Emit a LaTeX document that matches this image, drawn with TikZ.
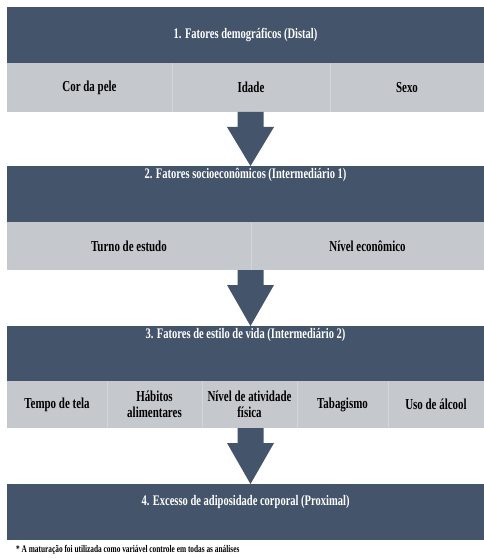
\documentclass[tikz,border=0pt]{standalone}
\usepackage{fontspec}
\setmainfont{Liberation Serif}[FakeStretch=0.72]
\usetikzlibrary{calc}
\definecolor{slate}{HTML}{44546A}
\definecolor{cellgray}{HTML}{C5C8CD}
\begin{document}
\begin{tikzpicture}[x=1pt,y=-1pt,
  darkbox/.style={fill=slate, draw=none, inner sep=0pt, outer sep=0pt, anchor=north west, minimum width=477pt, minimum height=56pt},
  cellbox/.style={fill=cellgray, draw=none, inner sep=0pt, outer sep=0pt, anchor=north west, align=center, text=black,
    font=\fontsize{15.2}{16}\selectfont\bfseries},
  titletext/.style={text=white, inner sep=0pt, font=\fontsize{14.6}{16}\selectfont\bfseries},
  divider/.style={draw=white, draw opacity=0.25, line width=0.8pt},
  bigarrow/.pic={\fill[slate] (-13,0) -- (13,0) -- (13,15) -- (23.5,15) -- (0,#1) -- (-23.5,15) -- (-13,15) -- cycle;},
  footnote/.style={anchor=west, inner sep=0pt, font=\fontsize{10.2}{12}\selectfont\bfseries}
]
\useasboundingbox[fill=white] (0,0) rectangle (484,559);

% Level 1
\node[darkbox] (b1) at (7,7) {};
\node[titletext] (t1) at (b1.center) {1. Fatores demográficos (Distal)};
\node[cellbox, minimum width=165pt, minimum height=49pt] (c11) at (7,63) {Cor da pele};
\node[cellbox, minimum width=158pt, minimum height=49pt] (c12) at (c11.north east) {Idade};
\node[cellbox, minimum width=154pt, minimum height=49pt] (c13) at (c12.north east) {Sexo};
\draw[divider] (c11.north east) -- (c11.south east);
\draw[divider] (c12.north east) -- (c12.south east);

% Arrow 1
\coordinate (a1) at (250.5,112);
\pic at (a1) {bigarrow=54};

% Level 2
\node[darkbox] (b2) at (7,166) {};
\node[titletext] (t2) at ($(b2.north)+(0,9)$) {2. Fatores socioeconômicos (Intermediário 1)};
\node[cellbox, minimum width=244pt, minimum height=48pt] (c21) at (7,222) {Turno de estudo};
\node[cellbox, minimum width=233pt, minimum height=48pt] (c22) at (c21.north east) {Nível econômico};
\draw[divider] (c21.north east) -- (c21.south east);

% Arrow 2
\coordinate (a2) at (250.5,270);
\pic at (a2) {bigarrow=56};

% Level 3
\node[darkbox, minimum height=55pt] (b3) at (7,326) {};
\node[titletext] (t3) at ($(b3.north)+(0,8.5)$) {3. Fatores de estilo de vida (Intermediário 2)};
\node[cellbox, minimum width=100pt, minimum height=47pt] (c31) at (7,381) {Tempo de tela};
\node[cellbox, minimum width=95pt, minimum height=47pt] (c32) at (c31.north east) {Hábitos\\alimentares};
\node[cellbox, minimum width=95pt, minimum height=47pt] (c33) at (c32.north east) {Nível de atividade\\física};
\node[cellbox, minimum width=91pt, minimum height=47pt] (c34) at (c33.north east) {Tabagismo};
\node[cellbox, minimum width=96pt, minimum height=47pt] (c35) at (c34.north east) {Uso de álcool};
\draw[divider] (c31.north east) -- (c31.south east);
\draw[divider] (c32.north east) -- (c32.south east);
\draw[divider] (c33.north east) -- (c33.south east);
\draw[divider] (c34.north east) -- (c34.south east);

% Arrow 3
\coordinate (a3) at (250.5,428);
\pic at (a3) {bigarrow=56};

% Level 4
\node[darkbox] (b4) at (7,484) {};
\node[titletext] (t4) at ($(b4.north)+(0,18)$) {4. Excesso de adiposidade corporal (Proximal)};

% Footnote
\node[footnote] (fn) at (16,550) {* A maturação foi utilizada como variável controle em todas as análises};
\end{tikzpicture}
\end{document}
